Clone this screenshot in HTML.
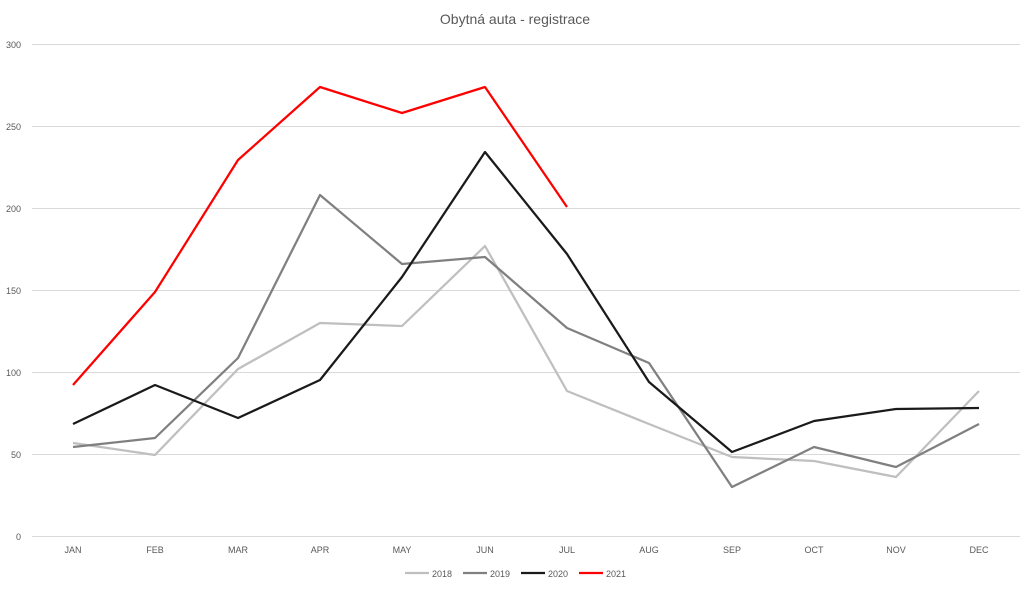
<!DOCTYPE html>
<html><head><meta charset="utf-8"><style>
body{margin:0;background:#fff;}
svg text{font-family:"Liberation Sans",sans-serif;fill:#595959;}
</style></head><body>
<svg width="1023" height="586" xmlns="http://www.w3.org/2000/svg">
<rect width="1023" height="586" fill="#fff"/>
<text x="515" y="24" font-size="14" text-anchor="middle">Obytná auta - registrace</text>
<g stroke="#d9d9d9" stroke-width="1">
<line x1="32" x2="1020" y1="44.5" y2="44.5"/>
<line x1="32" x2="1020" y1="126.5" y2="126.5"/>
<line x1="32" x2="1020" y1="208.5" y2="208.5"/>
<line x1="32" x2="1020" y1="290.5" y2="290.5"/>
<line x1="32" x2="1020" y1="372.5" y2="372.5"/>
<line x1="32" x2="1020" y1="454.5" y2="454.5"/>
<line x1="32" x2="1020" y1="536.5" y2="536.5"/>
</g>
<g font-size="9" text-anchor="end">
<text x="21" y="48">300</text><text x="21" y="130">250</text><text x="21" y="212">200</text>
<text x="21" y="294">150</text><text x="21" y="376">100</text><text x="21" y="458">50</text><text x="21" y="540">0</text>
</g>
<g font-size="9" text-anchor="middle">
<text x="73" y="553">JAN</text><text x="155" y="553">FEB</text><text x="238" y="553">MAR</text>
<text x="320" y="553">APR</text><text x="402" y="553">MAY</text><text x="485" y="553">JUN</text>
<text x="567" y="553">JUL</text><text x="649" y="553">AUG</text><text x="732" y="553">SEP</text>
<text x="814" y="553">OCT</text><text x="896" y="553">NOV</text><text x="979" y="553">DEC</text>
</g>
<g fill="none" stroke-width="2.25" stroke-linejoin="round">
<polyline stroke="#bfbfbf" points="73,443 155,455 238,369 320,323 402,326 485,246 567,391 649,424 732,457 814,461 896,477 979,391"/>
<polyline stroke="#808080" points="73,447 155,438 238,358 320,195 402,264 485,257 567,328 649,363 732,487 814,447 896,467 979,424"/>
<polyline stroke="#1a1a1a" points="73,424 155,385 238,418 320,380 402,277 485,152 567,254 649,382 732,452 814,421 896,409 979,408"/>
<polyline stroke="#ff0000" points="73,385 155,292 238,160 320,87 402,113 485,87 567,207"/>
</g>
<g stroke-width="2.25">
<line x1="405" x2="429" y1="573" y2="573" stroke="#bfbfbf"/>
<line x1="463" x2="487" y1="573" y2="573" stroke="#808080"/>
<line x1="521" x2="545" y1="573" y2="573" stroke="#1a1a1a"/>
<line x1="579" x2="603" y1="573" y2="573" stroke="#ff0000"/>
</g>
<g font-size="9">
<text x="432" y="577">2018</text><text x="490" y="577">2019</text>
<text x="548" y="577">2020</text><text x="606" y="577">2021</text>
</g>
</svg>
</body></html>
